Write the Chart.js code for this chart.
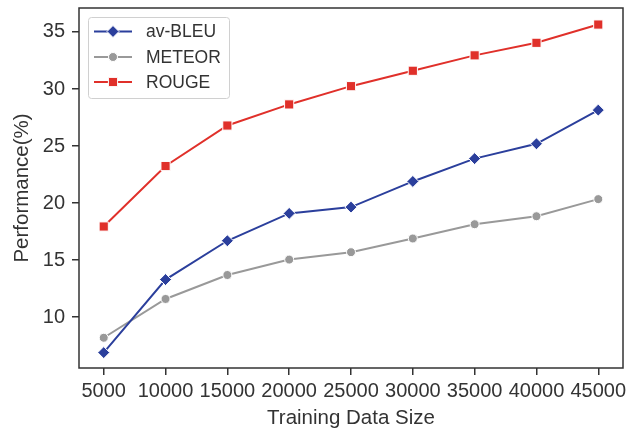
<!DOCTYPE html>
<html>
<head>
<meta charset="utf-8">
<script src="https://cdn.jsdelivr.net/npm/chart.js@4/dist/chart.umd.min.js"></script>
<style>
  html, body { margin: 0; padding: 0; background: #fff; }
  #wrap { width: 627px; height: 433px; }
</style>
</head>
<body>
<div id="wrap"><canvas id="perf"></canvas></div>
<script>
var sizes = [5000, 10000, 15000, 20000, 25000, 30000, 35000, 40000, 45000];
var bleu = [6.9, 13.3, 16.7, 19.1, 19.65, 21.9, 23.9, 25.2, 28.15];
var meteor = [8.2, 11.6, 13.7, 15.05, 15.7, 16.9, 18.15, 18.85, 20.35];
var rouge = [17.95, 23.25, 26.8, 28.65, 30.25, 31.6, 32.95, 34.05, 35.65];
var yTicks = [10, 15, 20, 25, 30, 35];
var xTicks = sizes;

var blue = "#2b3f9c";
var grey = "#999999";
var red = "#e0302a";
var ink = "#333333";
var font = "'Liberation Sans', Arial, sans-serif";

function pts(vals) {
    return sizes.map(function(s, i) { return {x: s, y: vals[i]}; });
}

function series(label, vals, color, style, r) {
    return {
        label: label,
        data: pts(vals),
        borderColor: color,
        backgroundColor: color,
        borderWidth: 2,
        pointStyle: style,
        pointRadius: r,
        pointBackgroundColor: color,
        pointBorderColor: "#fff",
        pointBorderWidth: 1,
        tension: 0
    };
}

// frame round the plot + legend box like matplotlib
var framePlugin = {
    id: "frame",
    afterDraw: function(chart) {
        var ctx = chart.ctx, a = chart.chartArea;
        ctx.save();
        ctx.strokeStyle = ink;
        ctx.lineWidth = 1.5;
        ctx.strokeRect(a.left, a.top, a.right - a.left, a.bottom - a.top);

        // legend
        var bx = 88.5, by = 17.5, bw = 141, bh = 81;
        ctx.beginPath();
        ctx.roundRect(bx, by, bw, bh, 3);
        ctx.fillStyle = "rgba(255,255,255,0.85)";
        ctx.fill();
        ctx.strokeStyle = "#d0d0d0";
        ctx.lineWidth = 1;
        ctx.stroke();
        var rows = [31.5, 57, 82];
        chart.data.datasets.forEach(function(ds, i) {
            var y = rows[i];
            ctx.strokeStyle = ds.borderColor;
            ctx.lineWidth = 2;
            ctx.beginPath();
            ctx.moveTo(94, y);
            ctx.lineTo(132, y);
            ctx.stroke();
            ctx.fillStyle = ds.borderColor;
            ctx.strokeStyle = "#fff";
            ctx.lineWidth = 1;
            Chart.helpers.drawPoint(ctx, {pointStyle: ds.pointStyle, radius: ds.pointRadius, borderWidth: 1}, 113, y);
            ctx.fillStyle = ink;
            ctx.font = "17.5px " + font;
            ctx.textBaseline = "middle";
            ctx.fillText(ds.label, 146, y + 1);
        });
        ctx.restore();
    }
};

new Chart(document.getElementById("perf"), {
    type: "line",
    data: {
        datasets: [
            series("av-BLEU", bleu, blue, "rectRot", 6),
            series("METEOR", meteor, grey, "circle", 4.5),
            series("ROUGE", rouge, red, "rect", 6.5)
        ]
    },
    options: {
        responsive: true,
        maintainAspectRatio: false,
        animation: false,
        layout: { padding: { top: 8, right: 4, left: 0, bottom: 0 } },
        plugins: {
            legend: { display: false },
            tooltip: { enabled: false }
        },
        scales: {
            x: {
                type: "linear",
                min: 3000,
                max: 47000,
                afterBuildTicks: function(s) { s.ticks = xTicks.map(function(v) { return {value: v}; }); },
                afterFit: function(s) { s.height = 65; s.paddingLeft = 0; s.paddingRight = 0; },
                border: { display: false },
                grid: { drawOnChartArea: false, drawTicks: true, tickLength: 7, color: ink, lineWidth: 1.5 },
                ticks: {
                    color: ink, font: { size: 20, family: font }, padding: 4, maxRotation: 0, autoSkip: false,
                    callback: function(v) { return String(v); }
                },
                title: { display: true, text: "Training Data Size", color: ink, font: { size: 20.5, family: font }, padding: { top: 0, bottom: 2 } }
            },
            y: {
                min: 5.55,
                max: 37.1,
                afterBuildTicks: function(s) { s.ticks = yTicks.map(function(v) { return {value: v}; }); },
                afterFit: function(s) { s.width = 79; s.paddingTop = 0; s.paddingBottom = 0; },
                border: { display: false },
                grid: { drawOnChartArea: false, drawTicks: true, tickLength: 7, color: ink, lineWidth: 1.5 },
                ticks: { color: ink, font: { size: 20, family: font }, padding: 7 },
                title: { display: true, text: "Performance(%)", color: ink, font: { size: 20.5, family: font }, padding: { top: 10, bottom: 0 } }
            }
        }
    },
    plugins: [framePlugin, {
        id: "edge",
        afterLayout: function(chart) {
            // Chart.js reserves room for the last x label; the reference frame runs to x=623
            var x = chart.scales.x;
            if (chart.chartArea.right < 623) {
                chart.chartArea.right = 623;
                x.right = 623;
                x.width = x.right - x.left;
                x.configure();
            }
        }
    }]
});
</script>
</body>
</html>
